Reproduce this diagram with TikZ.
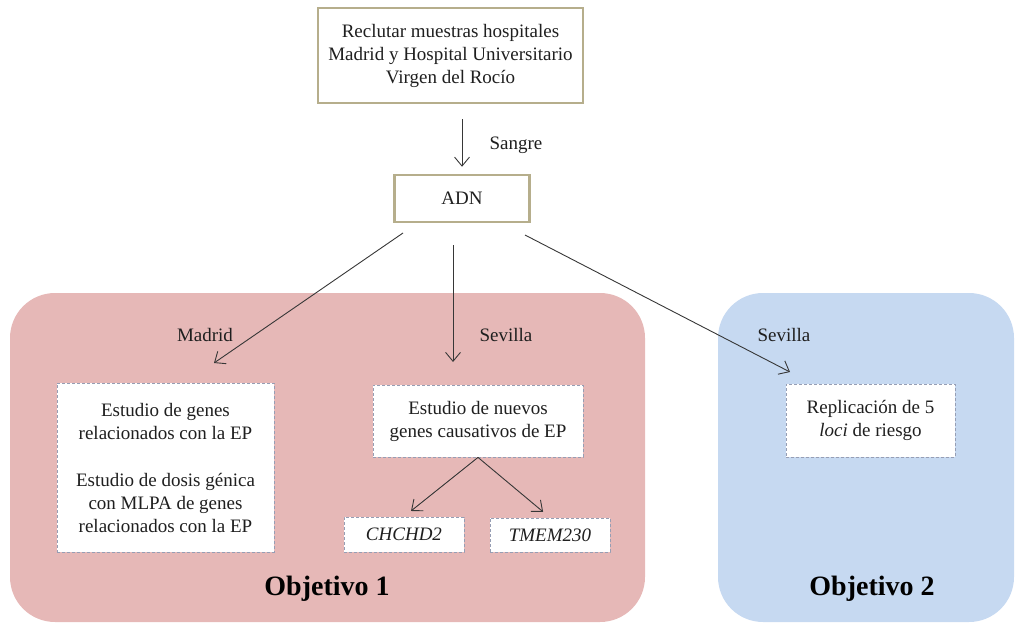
\documentclass[tikz,border=0pt]{standalone}
\usepackage{fontspec}
\setmainfont{Liberation Serif}
\usetikzlibrary{positioning,arrows.meta}
\definecolor{objpink}{RGB}{230,184,183}
\definecolor{objblue}{RGB}{198,217,241}
\definecolor{boxolive}{RGB}{182,174,140}
\definecolor{dashgray}{RGB}{150,158,180}
\definecolor{arrowgray}{RGB}{55,55,55}

\begin{document}
\begin{tikzpicture}[x=1pt, y=-1pt,
                    every node/.style={font=\fontsize{19}{23}\selectfont, text=black!88},
                    solid box/.style={draw=boxolive, line width=2.5pt, fill=white, align=center},
                    dashed box/.style={draw=dashgray, line width=0.8pt, dash pattern=on 3pt off 2pt, fill=white, align=center},
                    objetivo/.style={rounded corners=45pt},
                    flecha/.style={draw=arrowgray, line width=0.9pt, -{Straight Barb[length=9pt,width=15pt]}},
                    titulo/.style={font=\fontsize{28}{32}\selectfont\bfseries, text=black}]
                \useasboundingbox (0,0) rectangle (1018,626);
                \fill[objpink, objetivo] (10,293) rectangle (645,622);
                \fill[objblue, objetivo] (718,293) rectangle (1014,622);
                \node[solid box, minimum width=265pt, minimum height=95pt] (reclutar) at (450.5,55.5)
                    {Reclutar muestras hospitales\\Madrid y Hospital Universitario\\Virgen del Rocío};
                \node[solid box, minimum width=135pt, minimum height=47pt] (adn) at (462,198.5) {ADN};
                \node (sangre) at (516,145) {Sangre};
                \node (madrid) at (205,335) {Madrid};
                \node (sevilla1) at (506,335) {Sevilla};
                \node (sevilla2) at (784,335) {Sevilla};
                \node[dashed box, minimum width=217pt, minimum height=169pt] (genes) at (165.5,467.5)
                    {Estudio de genes\\relacionados con la EP\\[24pt]Estudio de dosis génica\\con MLPA de genes\\relacionados con la EP};
                \node[dashed box, minimum width=210pt, minimum height=72pt] (nuevos) at (478,421)
                    {Estudio de nuevos\\genes causativos de EP};
                \node[dashed box, minimum width=120pt, minimum height=35pt, font=\fontsize{19}{23}\selectfont\itshape] (chchd2) at (404,534.5) {CHCHD2};
                \node[dashed box, minimum width=120pt, minimum height=34pt, font=\fontsize{19}{23}\selectfont\itshape] (tmem230) at (550,535) {TMEM230};
                \node[dashed box, minimum width=169pt, minimum height=73pt] (replicacion) at (870.5,420.5)
                    {Replicación de 5\\\textit{loci} de riesgo};
                \node[titulo] (objetivo1) at (327,589) {Objetivo 1};
                \node[titulo] (objetivo2) at (872,589) {Objetivo 2};
                \coordinate (salida1) at (403,233);
                \coordinate (salida2) at (453,245);
                \coordinate (salida3) at (525,235);
                \coordinate (llegada1) at (214,363);
                \coordinate (llegada2) at (453,362);
                \coordinate (llegada3) at (790,372);
                \draw[flecha, shorten <=15pt, shorten >=7pt] (reclutar.south -| adn.north) -- (adn.north);
                \draw[flecha] (salida1) -- (llegada1);
                \draw[flecha] (salida2) -- (llegada2);
                \draw[flecha] (salida3) -- (llegada3);
                \draw[flecha, shorten >=9pt] (nuevos.south) -- (chchd2.north);
                \draw[flecha, shorten >=9pt] (nuevos.south) -- (tmem230.north);
            \end{tikzpicture}
\end{document}
